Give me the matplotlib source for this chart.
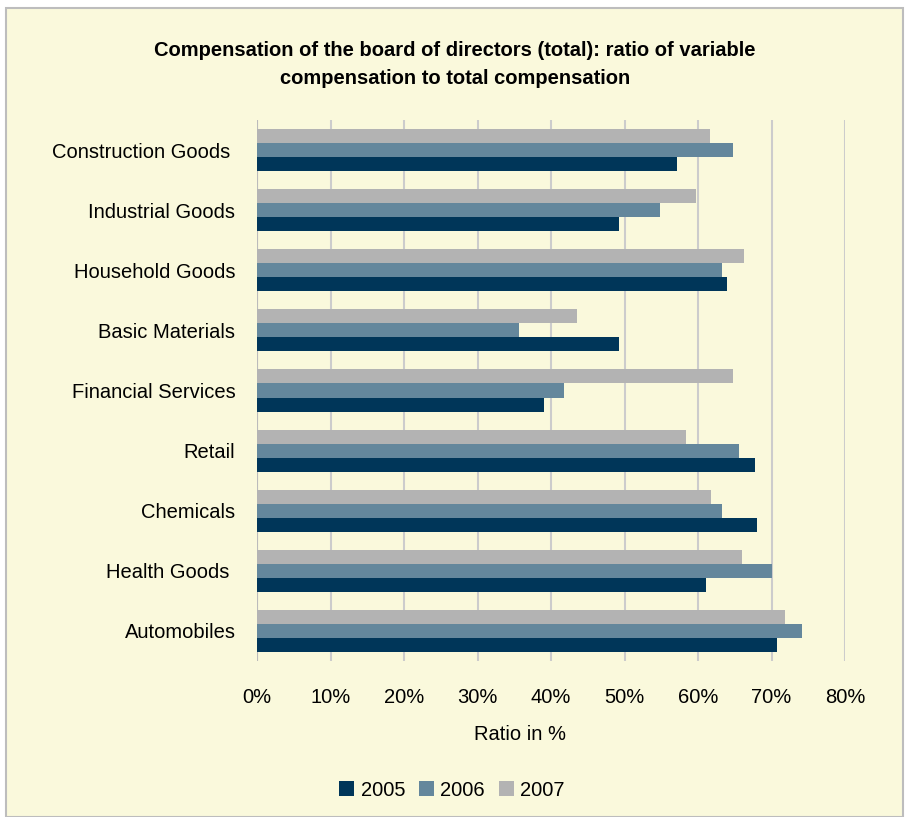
import matplotlib
matplotlib.use("Agg")
import matplotlib.pyplot as plt
from matplotlib.patches import Rectangle
import numpy as np

categories = ["Construction Goods ", "Industrial Goods", "Household Goods", "Basic Materials",
              "Financial Services", "Retail", "Chemicals", "Health Goods ", "Automobiles"]
v2005 = [57.1, 49.3, 63.9, 49.3, 39.1, 67.8, 68.0, 61.1, 70.8]
v2006 = [64.8, 54.8, 63.3, 35.6, 41.8, 65.6, 63.3, 70.0, 74.2]
v2007 = [61.6, 59.7, 66.2, 43.5, 64.8, 58.4, 61.8, 66.0, 71.8]
years = ["2005", "2006", "2007"]
xticks = [0, 10, 20, 30, 40, 50, 60, 70, 80]

colors = ["#003659", "#64879C", "#B3B3B3"]
bg = "#FAF9DC"

plt.rcParams['font.family'] = ['Liberation Sans', 'DejaVu Sans']

W, H = 910, 817
fig = plt.figure(figsize=(W/100, H/100), dpi=100)
fig.patch.set_facecolor("white")
fig.patches.append(Rectangle((6/W, 0), (903-6)/W, (H-8)/H, transform=fig.transFigure,
                             facecolor=bg, edgecolor="#BDBDBD", lw=1.5, zorder=-5))

ax = fig.add_axes([257/W, 1-661/H, (845-257)/W, (661-120)/H])
ax.set_facecolor(bg)
ax.patch.set_alpha(0)

y = np.arange(len(categories))
h = 0.233
ax.barh(y + h, v2005, height=h, color=colors[0], label=years[0], zorder=3)
ax.barh(y, v2006, height=h, color=colors[1], label=years[1], zorder=3)
ax.barh(y - h, v2007, height=h, color=colors[2], label=years[2], zorder=3)

ax.set_ylim(len(categories) - 0.5, -0.5)
ax.set_xlim(0, 80)
ax.set_xticks(xticks)
ax.set_xticklabels([f"{t}%" for t in xticks], fontsize=14.5)
ax.set_yticks(y)
ax.set_yticklabels(categories, fontsize=14.5)
ax.tick_params(axis='y', length=0, pad=15.5)
ax.tick_params(axis='x', length=0, pad=19.5)
for s in ax.spines.values():
    s.set_visible(False)
ax.grid(axis='x', color="#CCCCCC", lw=1.5, zorder=0)
ax.set_axisbelow(True)
ax.axvline(0, color="#BBBBBB", lw=1.5, zorder=1)

fig.text(455/W, 1-64/H, "Compensation of the board of directors (total): ratio of variable\ncompensation to total compensation",
         ha="center", va="center", fontsize=14.5, fontweight="bold", linespacing=1.6)
fig.text(520/W, 1-735/H, "Ratio in %", ha="center", va="center", fontsize=14.5)

handles, labels = ax.get_legend_handles_labels()
fig.legend(handles, labels, loc="center", bbox_to_anchor=(452/W, 1-790/H), ncol=3,
           frameon=False, fontsize=14.5, handlelength=0.75, handleheight=0.75,
           handletextpad=0.3, columnspacing=0.7)

fig.savefig("out.png", dpi=100, facecolor=fig.get_facecolor())
